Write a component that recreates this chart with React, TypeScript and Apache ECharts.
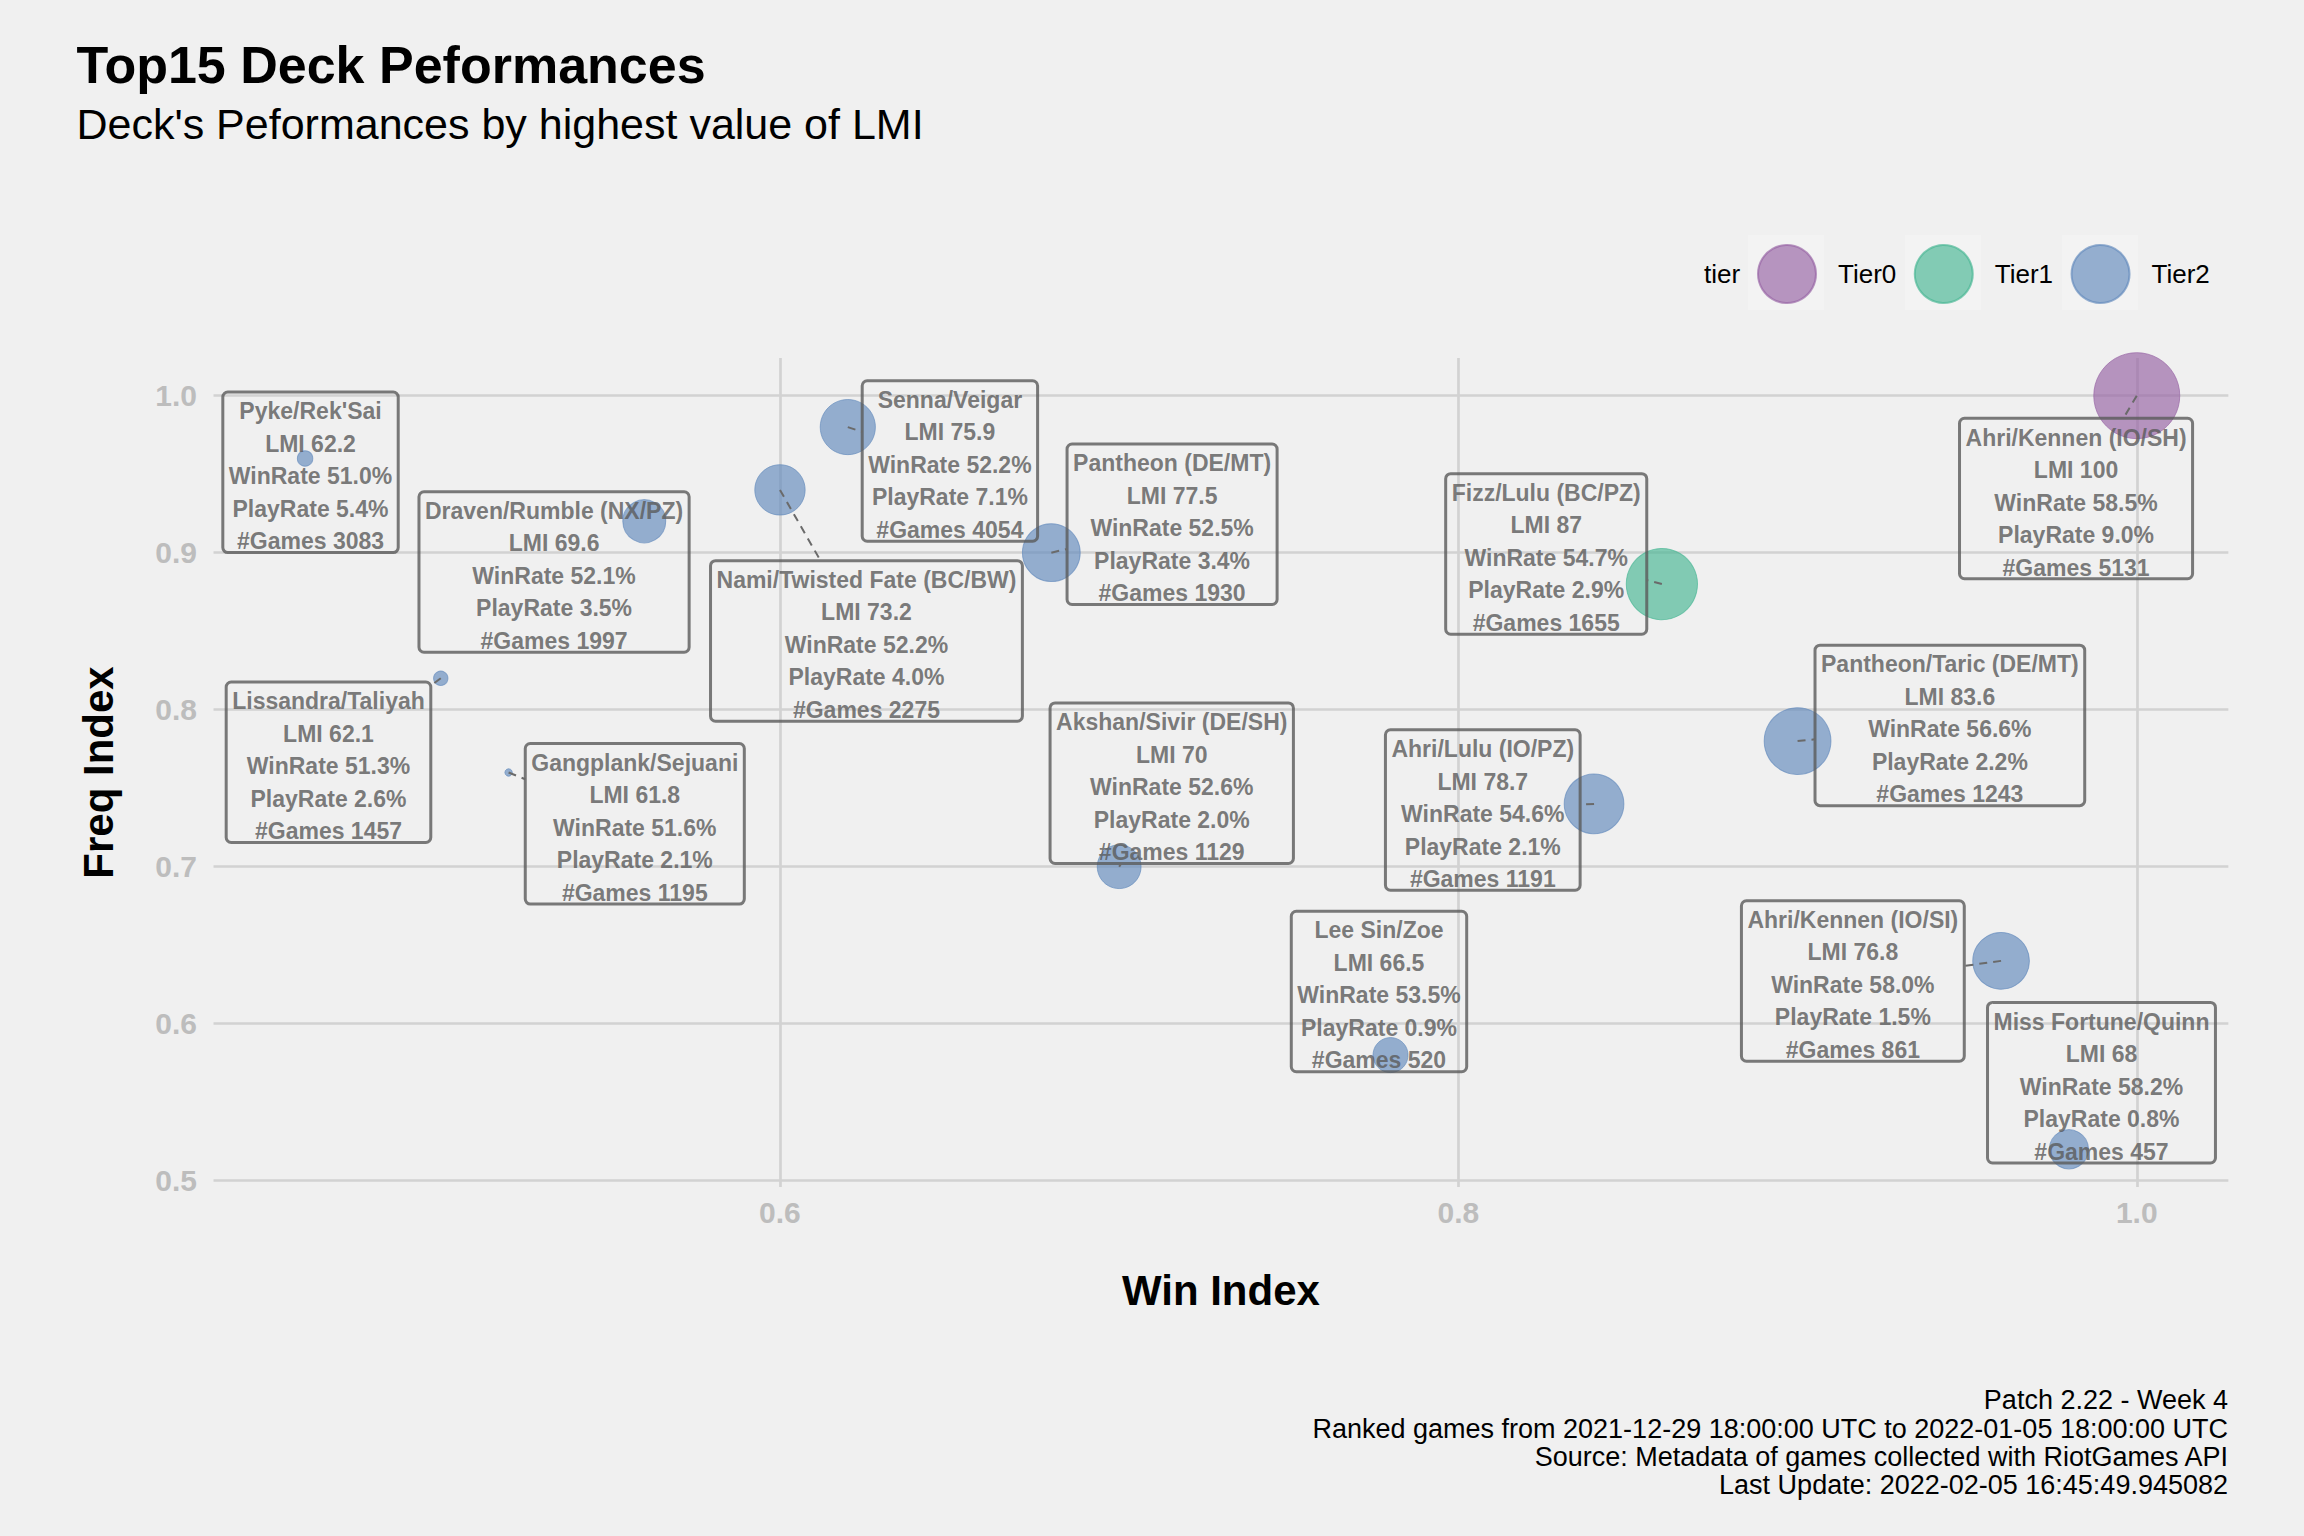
import React, { useEffect, useRef } from "react";
import * as echarts from "echarts";

// ---------- data ----------
const decks = [
  "Ahri/Kennen (IO/SH)",
  "Fizz/Lulu (BC/PZ)",
  "Pantheon/Taric (DE/MT)",
  "Ahri/Lulu (IO/PZ)",
  "Pantheon (DE/MT)",
  "Ahri/Kennen (IO/SI)",
  "Senna/Veigar",
  "Nami/Twisted Fate (BC/BW)",
  "Akshan/Sivir (DE/SH)",
  "Draven/Rumble (NX/PZ)",
  "Miss Fortune/Quinn",
  "Lee Sin/Zoe",
  "Pyke/Rek'Sai",
  "Lissandra/Taliyah",
  "Gangplank/Sejuani",
];
const tiers = ["Tier0", "Tier1", "Tier2", "Tier2", "Tier2", "Tier2", "Tier2", "Tier2", "Tier2", "Tier2", "Tier2", "Tier2", "Tier2", "Tier2", "Tier2"];
const winIndex = [1.0, 0.86, 0.9, 0.84, 0.68, 0.96, 0.62, 0.6, 0.7, 0.56, 0.98, 0.78, 0.46, 0.5, 0.52];
const freqIndex = [1.0, 0.88, 0.78, 0.74, 0.9, 0.64, 0.98, 0.94, 0.7, 0.92, 0.52, 0.58, 0.96, 0.82, 0.76];
const lmi = [100, 87, 83.6, 78.7, 77.5, 76.8, 75.9, 73.2, 70, 69.6, 68, 66.5, 62.2, 62.1, 61.8];
const winRate = [58.5, 54.7, 56.6, 54.6, 52.5, 58.0, 52.2, 52.2, 52.6, 52.1, 58.2, 53.5, 51.0, 51.3, 51.6];
const playRate = [9.0, 2.9, 2.2, 2.1, 3.4, 1.5, 7.1, 4.0, 2.0, 3.5, 0.8, 0.9, 5.4, 2.6, 2.1];
const games = [5131, 1655, 1243, 1191, 1930, 861, 4054, 2275, 1129, 1997, 457, 520, 3083, 1457, 1195];

const tierNames = ["Tier0", "Tier1", "Tier2"];
const xTicks = [0.6, 0.8, 1.0];
const yTicks = [0.5, 0.6, 0.7, 0.8, 0.9, 1.0];

const titleText = "Top15 Deck Peformances";
const subtitleText = "Deck's Peformances by highest value of LMI";
const captionLines = [
  "Patch 2.22 - Week 4",
  "Ranked games from 2021-12-29 18:00:00 UTC to 2022-01-05 18:00:00 UTC",
  "Source: Metadata of games collected with RiotGames API",
  "Last Update: 2022-02-05 16:45:49.945082",
];

// ---------- layout (label box centres, in data units, as placed by the repel layout) ----------
const labelX = [0.9821, 0.8259, 0.9449, 0.8072, 0.7156, 0.9163, 0.6501, 0.6255, 0.7155, 0.5334, 0.9896, 0.7766, 0.4616, 0.4669, 0.5572];
const labelY = [0.9345, 0.8992, 0.79, 0.7361, 0.9181, 0.6272, 0.9584, 0.8438, 0.7532, 0.8877, 0.5624, 0.6205, 0.9512, 0.7665, 0.7273];

// ---------- styles ----------
const FONT = '"Liberation Sans", Arial, Helvetica, sans-serif';
const BG = "#f0f0f0";
const tierColors: Record<string, string> = {
  Tier0: "rgba(150,98,164,0.82)",
  Tier1: "rgba(70,182,147,0.82)",
  Tier2: "rgba(98,138,188,0.82)",
};
const LABEL_FONT = 23;
const LABEL_LH = 32.5;
const LABEL_PADX = 6;
const LABEL_BOX_H = 160.5;
const LABEL_TEXT_SHIFT = 4;
const LABEL_COLOR = "#5a5a5a";

const X_MIN = 0.433;
const X_MAX = 1.027;
const Y_MIN = 0.496;
const Y_MAX = 1.024;

const lmiMin = Math.min(...lmi);
const lmiMax = Math.max(...lmi);
const sizeOf = (v: number) => 7.4 + 78.6 * Math.sqrt((v - lmiMin) / (lmiMax - lmiMin));

function labelLines(i: number): string[] {
  return [
    decks[i],
    `LMI ${lmi[i]}`,
    `WinRate ${winRate[i].toFixed(1)}%`,
    `PlayRate ${playRate[i].toFixed(1)}%`,
    `#Games ${games[i]}`,
  ];
}

export default function App() {
  const ref = useRef<HTMLDivElement>(null);

  useEffect(() => {
    document.body.style.margin = "0";
    document.body.style.background = BG;
    const chart = echarts.init(ref.current!, null, { renderer: "svg", width: 2304, height: 1536 });

    const canvas = document.createElement("canvas");
    const ctx = canvas.getContext("2d")!;
    ctx.font = `bold ${LABEL_FONT}px ${FONT}`;
    const textW = decks.map((_, i) => Math.max(...labelLines(i).map((s) => ctx.measureText(s).width)));

    const bubbleSeries = tierNames.map((t) => ({
      name: t,
      type: "scatter",
      z: 2,
      clip: true,
      data: decks
        .map((_, i) => i)
        .filter((i) => tiers[i] === t)
        .map((i) => [winIndex[i], freqIndex[i], lmi[i]]),
      symbol: "circle",
      symbolSize: (v: number[]) => sizeOf(v[2]),
      itemStyle: { color: tierColors[t], borderColor: tierColors[t], borderWidth: 1 },
      emphasis: { disabled: true },
    }));

    const legendKeyCenters = [1786, 1943, 2100];
    const baseGraphic: any[] = [
      ...legendKeyCenters.map((cx) => ({
        type: "rect",
        z: 0,
        silent: true,
        shape: { x: cx - 38, y: 235, width: 76, height: 75 },
        style: { fill: "#f3f3f3" },
      })),
      {
        type: "text",
        z: 5,
        x: 1704,
        y: 274,
        style: {
          text: "tier",
          fontSize: 26,
          fontFamily: FONT,
          fill: "#000",
          align: "left",
          verticalAlign: "middle",
          textAlign: "left",
          textVerticalAlign: "middle",
        },
      },
      {
        type: "text",
        z: 5,
        x: 2228,
        y: 1386,
        style: {
          text: captionLines.join("\n"),
          fontSize: 27,
          lineHeight: 28.4,
          fontFamily: FONT,
          fill: "#000",
          align: "right",
          verticalAlign: "top",
          textAlign: "right",
          textVerticalAlign: "top",
        },
      },
    ];

    const option: any = {
      animation: false,
      backgroundColor: BG,
      textStyle: { fontFamily: FONT },
      title: {
        left: 76.5,
        top: 38.5,
        padding: 0,
        itemGap: 11.8,
        text: titleText,
        subtext: subtitleText,
        textStyle: { fontFamily: FONT, fontSize: 52, fontWeight: "bold", color: "#000", lineHeight: 52 },
        subtextStyle: { fontFamily: FONT, fontSize: 43, fontWeight: "normal", color: "#000", lineHeight: 43 },
      },
      legend: {
        data: tierNames,
        left: 1757,
        top: 244,
        padding: 0,
        orient: "horizontal",
        icon: "circle",
        itemWidth: 58,
        itemHeight: 58,
        itemGap: 17.5,
        selectedMode: false,
        textStyle: { fontFamily: FONT, fontSize: 26, color: "#000", padding: [0, 0, 0, 17] },
      },
      grid: { left: 213.5, top: 358, width: (X_MAX - X_MIN) * 3392, height: (Y_MAX - Y_MIN) * 1570, containLabel: false },
      xAxis: {
        type: "value",
        min: X_MIN,
        max: X_MAX,
        name: "Win Index",
        nameLocation: "middle",
        nameGap: 103.5,
        nameTextStyle: { fontFamily: FONT, fontSize: 42, fontWeight: "bold", color: "#000", verticalAlign: "middle" },
        axisLine: { show: false },
        axisTick: { show: false },
        splitLine: { show: false },
        axisLabel: {
          customValues: xTicks,
          formatter: (v: number) => v.toFixed(1),
          fontFamily: FONT,
          fontSize: 30,
          fontWeight: "bold",
          color: "#bdbdbd",
          margin: 26,
          verticalAlign: "middle",
        },
      },
      yAxis: {
        type: "value",
        min: Y_MIN,
        max: Y_MAX,
        name: "Freq Index",
        nameLocation: "middle",
        nameGap: 115,
        nameRotate: 90,
        nameTextStyle: { fontFamily: FONT, fontSize: 42, fontWeight: "bold", color: "#000", verticalAlign: "middle" },
        axisLine: { show: false },
        axisTick: { show: false },
        splitLine: { show: false },
        axisLabel: {
          customValues: yTicks,
          formatter: (v: number) => v.toFixed(1),
          fontFamily: FONT,
          fontSize: 30,
          fontWeight: "bold",
          color: "#bdbdbd",
          margin: 16.5,
        },
      },
      series: [
        ...bubbleSeries,
        {
          name: "labelBoxes",
          type: "scatter",
          z: 3,
          clip: false,
          silent: true,
          symbolSize: 1,
          itemStyle: { color: "rgba(0,0,0,0)" },
          emphasis: { disabled: true },
          data: decks.map((_, i) => ({
            value: [labelX[i], labelY[i]],
            label: { width: textW[i] },
          })),
          label: {
            show: true,
            position: "inside",
            formatter: () => " ",
            fontSize: LABEL_FONT,
            height: LABEL_BOX_H,
            align: "center",
            verticalAlign: "middle",
            borderColor: LABEL_COLOR,
            borderWidth: 1.5,
            borderRadius: 5,
            padding: [0, LABEL_PADX],
            backgroundColor: "transparent",
          },
          markLine: {
            z: 1,
            silent: true,
            symbol: ["none", "none"],
            label: { show: false },
            emphasis: { disabled: true },
            lineStyle: { color: "#d2d2d2", width: 2.7, type: "solid" },
            data: [...xTicks.map((v) => ({ xAxis: v })), ...yTicks.map((v) => ({ yAxis: v }))],
          },
        },
        {
          name: "labels",
          type: "scatter",
          z: 4,
          clip: false,
          silent: true,
          symbolSize: 1,
          itemStyle: { color: "rgba(0,0,0,0)" },
          emphasis: { disabled: true },
          data: decks.map((_, i) => [labelX[i], labelY[i]]),
          label: {
            show: true,
            position: "inside",
            offset: [0, LABEL_TEXT_SHIFT],
            formatter: (p: any) => labelLines(p.dataIndex).join("\n"),
            fontFamily: FONT,
            fontSize: LABEL_FONT,
            fontWeight: "bold",
            color: LABEL_COLOR,
            lineHeight: LABEL_LH,
            align: "center",
            verticalAlign: "middle",
          },
        },
      ],
      graphic: baseGraphic,
    };

    chart.setOption(option);

    // repel segments: from each point towards its label centre, stopping at the label box
    const segs: any[] = [];
    decks.forEach((_, i) => {
      const p = chart.convertToPixel({ gridIndex: 0 }, [winIndex[i], freqIndex[i]]) as number[];
      const c = chart.convertToPixel({ gridIndex: 0 }, [labelX[i], labelY[i]]) as number[];
      const w = textW[i] + 2 * LABEL_PADX;
      const h = LABEL_BOX_H;
      const bx1 = c[0] - w / 2, bx2 = c[0] + w / 2, by1 = c[1] - h / 2, by2 = c[1] + h / 2;
      if (p[0] >= bx1 && p[0] <= bx2 && p[1] >= by1 && p[1] <= by2) return;
      const dx = c[0] - p[0], dy = c[1] - p[1];
      let tx = -Infinity, ty = -Infinity;
      if (dx !== 0) tx = Math.min((bx1 - p[0]) / dx, (bx2 - p[0]) / dx);
      if (dy !== 0) ty = Math.min((by1 - p[1]) / dy, (by2 - p[1]) / dy);
      const t = Math.max(tx, ty);
      const ex = p[0] + t * dx, ey = p[1] + t * dy;
      if (Math.hypot(ex - p[0], ey - p[1]) < 3) return;
      segs.push({
        type: "line",
        z: 10,
        silent: true,
        shape: { x1: p[0], y1: p[1], x2: ex, y2: ey },
        style: { stroke: "#6a6a6a", lineWidth: 2, lineDash: [8, 6] },
      });
    });
    chart.setOption({ graphic: [...baseGraphic, ...segs] }, { replaceMerge: ["graphic"] });

    return () => chart.dispose();
  }, []);

  return <div ref={ref} style={{ position: "absolute", left: 0, top: 0, width: 2304, height: 1536 }} />;
}
